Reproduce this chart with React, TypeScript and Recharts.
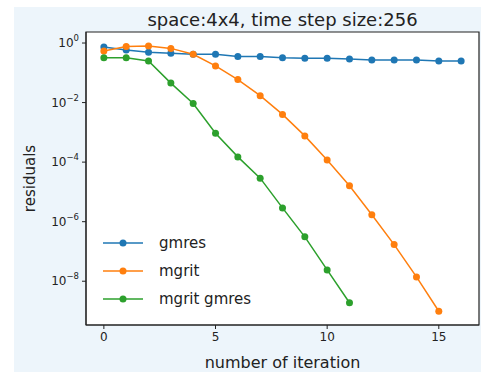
import React from "react";
import {
  LineChart,
  Line,
  XAxis,
  YAxis,
  ReferenceArea,
} from "recharts";

const iterations = [0, 1, 2, 3, 4, 5, 6, 7, 8, 9, 10, 11, 12, 13, 14, 15, 16];
const gmres = [0.74, 0.58, 0.49, 0.45, 0.42, 0.42, 0.35, 0.35, 0.32, 0.31, 0.31, 0.29, 0.27, 0.27, 0.27, 0.25, 0.25];
const mgrit = [0.54, 0.76, 0.79, 0.66, 0.42, 0.17, 0.059, 0.017, 0.004, 7.6e-4, 1.17e-4, 1.6e-5, 1.7e-6, 1.7e-7, 1.4e-8, 9.8e-10];
const mgritGmres = [0.32, 0.32, 0.25, 0.045, 0.0093, 9.3e-4, 1.5e-4, 2.9e-5, 2.9e-6, 3.1e-7, 2.4e-8, 1.9e-9];

const xTicks = [0, 5, 10, 15];
const yTicks = [1, 1e-2, 1e-4, 1e-6, 1e-8];
const xDomain = [-0.8, 16.8];
const yDomain = [Math.pow(10, -9.47), Math.pow(10, 0.37)];

const series = [
  { key: "gmres", name: "gmres", color: "#1f77b4" },
  { key: "mgrit", name: "mgrit", color: "#ff7f0e" },
  { key: "mgritGmres", name: "mgrit gmres", color: "#2ca02c" },
];

const data = iterations.map((it, i) => ({
  it,
  gmres: gmres[i],
  mgrit: mgrit[i],
  mgritGmres: mgritGmres[i],
}));

const FONT = "'DejaVu Sans', sans-serif";

const LogTick = (props: any) => {
  const { x, y, payload } = props;
  const exp = Math.round(Math.log10(payload.value));
  const label = exp < 0 ? `\u2212${-exp}` : `${exp}`;
  return (
    <text x={x} y={y + 4} textAnchor="end" fontSize={12} fill="#222" fontFamily={FONT}>
      10
      <tspan dy={-6} fontSize={8.5}>
        {label}
      </tspan>
    </text>
  );
};

const XTick = (props: any) => {
  const { x, y, payload } = props;
  return (
    <text x={x} y={y + 10} textAnchor="middle" fontSize={12} fill="#222" fontFamily={FONT}>
      {payload.value}
    </text>
  );
};

// legend drawn as an overlay so it doesn't shrink the plot
function LegendBox() {
  return (
    <svg width={170} height={80} style={{ position: "absolute", left: 100, top: 232 }}>
      {series.map((s, i) => (
        <g key={s.key} transform={`translate(0, ${11 + i * 28})`}>
          <line x1={3} x2={43} y1={0} y2={0} stroke={s.color} strokeWidth={1.5} />
          <circle cx={23} cy={0} r={3.5} fill={s.color} />
          <text x={59} y={5} fontSize={15} fill="#222" fontFamily={FONT}>
            {s.name}
          </text>
        </g>
      ))}
    </svg>
  );
}

export default function App() {
  return (
    <div style={{ position: "absolute", left: 0, top: 0, width: 481, height: 372, background: "#fff" }}>
      <div style={{ position: "absolute", left: 14, top: 7, right: 0, bottom: 0, background: "#edf5fb" }} />
      <div style={{ position: "absolute", left: 0, top: 0 }}>
        <LineChart
          width={481}
          height={372}
          data={data}
          margin={{ top: 32, right: 2, bottom: 0, left: 0 }}
        >
          <ReferenceArea
            x1={xDomain[0]}
            x2={xDomain[1]}
            y1={yDomain[0]}
            y2={yDomain[1]}
            fill="#fff"
            fillOpacity={1}
            stroke="#222"
            strokeWidth={1.2}
            ifOverflow="visible"
          />
          <XAxis
            dataKey="it"
            type="number"
            domain={xDomain}
            ticks={xTicks}
            allowDataOverflow
            height={47}
            tickSize={4}
            stroke="#222"
            tick={<XTick />}
            label={{ value: "number of iteration", position: "insideBottom", offset: 4, fontSize: 16, fill: "#222", fontFamily: FONT }}
          />
          <YAxis
            type="number"
            scale="log"
            domain={yDomain}
            ticks={yTicks}
            allowDataOverflow
            width={86}
            tickSize={4}
            tickMargin={3}
            stroke="#222"
            tick={<LogTick />}
            label={{ value: "residuals", angle: -90, position: "insideLeft", offset: 30, fontSize: 15, fill: "#222", fontFamily: FONT, style: { textAnchor: "middle" } }}
          />
          {series.map((s) => (
            <Line
              key={s.key}
              dataKey={s.key}
              name={s.name}
              stroke={s.color}
              strokeWidth={1.5}
              dot={{ r: 3.5, fill: s.color, stroke: s.color, strokeWidth: 0 }}
              activeDot={false}
              isAnimationActive={false}
            />
          ))}
          <text x={282.5} y={26} textAnchor="middle" fontSize={18} fill="#222" fontFamily={FONT}>
            space:4x4, time step size:256
          </text>
        </LineChart>
      </div>
      <LegendBox />
    </div>
  );
}
